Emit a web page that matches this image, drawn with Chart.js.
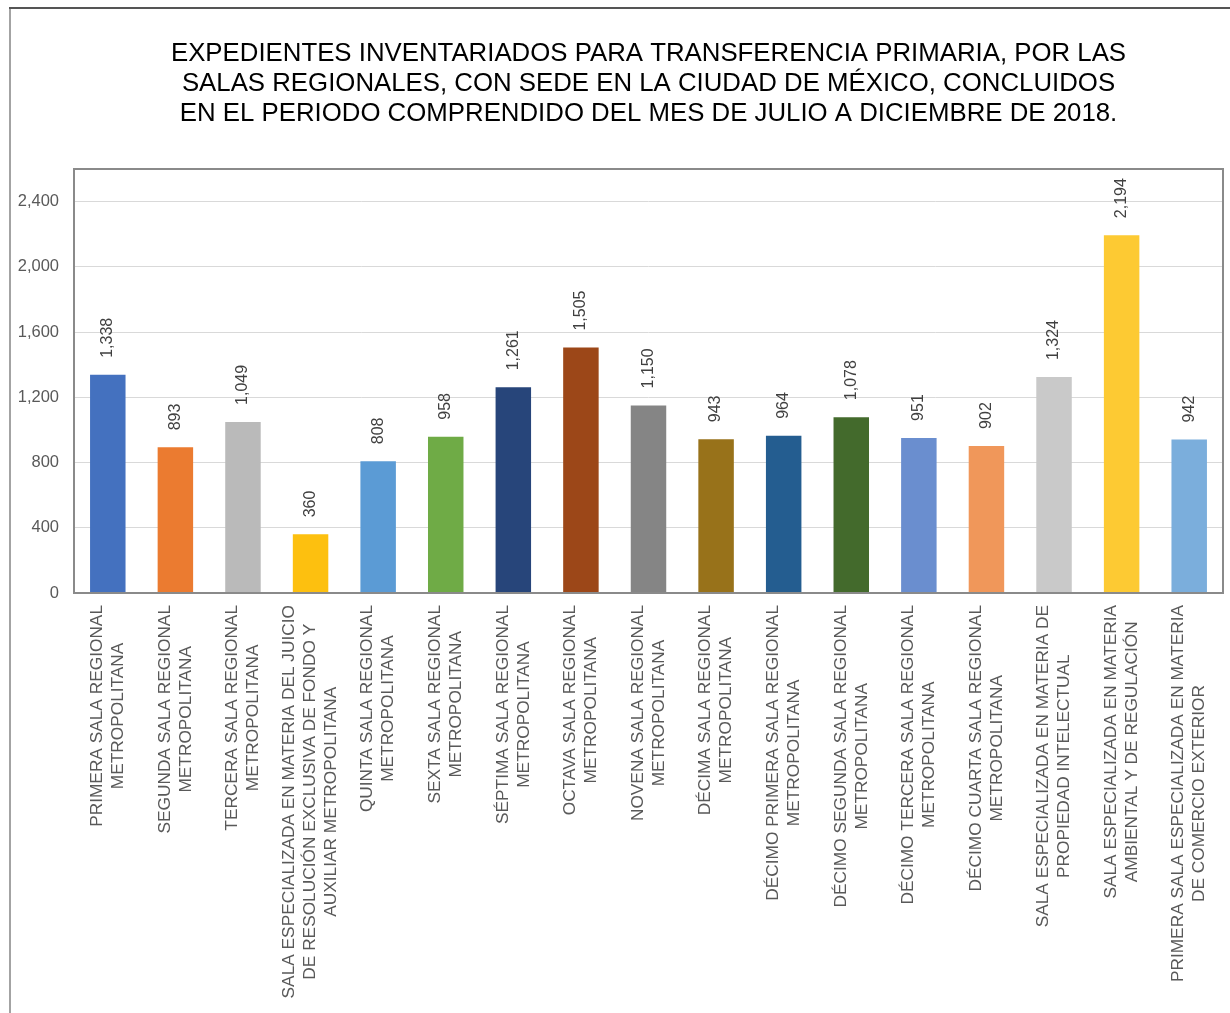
<!DOCTYPE html>
<html>
<head>
<meta charset="utf-8">
<script src="https://cdn.jsdelivr.net/npm/chart.js@4.4.0/dist/chart.umd.min.js"></script>
<style>
  body { margin: 0; background: #fff; }
  canvas { display: block; }
</style>
</head>
<body>
<canvas id="grafico" width="1230" height="1013"></canvas>
<script>
// Datos
const titulo = [
  'EXPEDIENTES INVENTARIADOS PARA TRANSFERENCIA PRIMARIA, POR LAS',
  'SALAS REGIONALES, CON SEDE EN LA CIUDAD DE MÉXICO, CONCLUIDOS',
  'EN EL PERIODO COMPRENDIDO DEL MES DE JULIO A DICIEMBRE DE 2018.'
];

const salas = [
  ['PRIMERA SALA REGIONAL', 'METROPOLITANA'],
  ['SEGUNDA SALA REGIONAL', 'METROPOLITANA'],
  ['TERCERA SALA REGIONAL', 'METROPOLITANA'],
  ['SALA ESPECIALIZADA EN MATERIA DEL JUICIO', 'DE RESOLUCIÓN EXCLUSIVA DE FONDO Y', 'AUXILIAR METROPOLITANA'],
  ['QUINTA SALA REGIONAL', 'METROPOLITANA'],
  ['SEXTA SALA REGIONAL', 'METROPOLITANA'],
  ['SÉPTIMA SALA REGIONAL', 'METROPOLITANA'],
  ['OCTAVA SALA REGIONAL', 'METROPOLITANA'],
  ['NOVENA SALA REGIONAL', 'METROPOLITANA'],
  ['DÉCIMA SALA REGIONAL', 'METROPOLITANA'],
  ['DÉCIMO PRIMERA SALA REGIONAL', 'METROPOLITANA'],
  ['DÉCIMO SEGUNDA SALA REGIONAL', 'METROPOLITANA'],
  ['DÉCIMO TERCERA SALA REGIONAL', 'METROPOLITANA'],
  ['DÉCIMO CUARTA SALA REGIONAL', 'METROPOLITANA'],
  ['SALA ESPECIALIZADA EN MATERIA DE', 'PROPIEDAD INTELECTUAL'],
  ['SALA ESPECIALIZADA EN MATERIA', 'AMBIENTAL Y DE REGULACIÓN'],
  ['PRIMERA SALA ESPECIALIZADA EN MATERIA', 'DE COMERCIO EXTERIOR']
];

const expedientes = [1338, 893, 1049, 360, 808, 958, 1261, 1505, 1150, 943, 964, 1078, 951, 902, 1324, 2194, 942];

const colores = [
  '#4471bf', '#eb7b30', '#bababa', '#fdc00f', '#5b9bd5', '#6fab46',
  '#27457a', '#9c4718', '#858585', '#98721a', '#245d90', '#436a2c',
  '#6a8ecf', '#f0975a', '#c9c9c9', '#fdca33', '#7baedc'
];

const fuente = "'Liberation Sans', Arial, sans-serif";

// marco exterior de la imagen y borde del área del gráfico
const marco = {
  id: 'marco',
  beforeDraw(chart) {
    const ctx = chart.ctx;
    ctx.save();
    ctx.fillStyle = '#a3a3a3';
    ctx.fillRect(9, 7, 2, 1006);
    ctx.fillStyle = '#555555';
    ctx.fillRect(9, 7, 1221, 2);
    ctx.restore();
  },
  afterDraw(chart) {
    const a = chart.chartArea;
    const ctx = chart.ctx;
    ctx.save();
    ctx.strokeStyle = '#8a8a8a';
    ctx.lineWidth = 2;
    ctx.strokeRect(a.left, a.top, a.right - a.left, a.bottom - a.top);
    ctx.restore();
  }
};

// etiquetas de valor giradas encima de cada barra
const etiquetasValor = {
  id: 'etiquetasValor',
  afterDatasetsDraw(chart) {
    const ctx = chart.ctx;
    const meta = chart.getDatasetMeta(0);
    ctx.save();
    ctx.font = '16px ' + fuente;
    ctx.fillStyle = '#404040';
    ctx.textAlign = 'left';
    ctx.textBaseline = 'middle';
    meta.data.forEach((barra, i) => {
      ctx.save();
      ctx.translate(barra.x, barra.y - 17);
      ctx.rotate(-Math.PI / 2);
      ctx.fillText(expedientes[i].toLocaleString('en-US'), 0, 0);
      ctx.restore();
    });
    ctx.restore();
  }
};

// nombres de las salas, verticales y centrados entre sí
const etiquetasX = {
  id: 'etiquetasX',
  afterDraw(chart) {
    const ctx = chart.ctx;
    const escala = chart.scales.x;
    const base = chart.chartArea.bottom + 12;
    const alto = 21;
    ctx.save();
    ctx.font = '17.3px ' + fuente;
    ctx.fillStyle = '#595959';
    ctx.textAlign = 'center';
    ctx.textBaseline = 'middle';
    salas.forEach((lineas, i) => {
      const x = escala.getPixelForValue(i);
      const ancho = Math.max(...lineas.map(l => ctx.measureText(l).width));
      lineas.forEach((linea, j) => {
        ctx.save();
        ctx.translate(x + (j - (lineas.length - 1) / 2) * alto, base + ancho / 2);
        ctx.rotate(-Math.PI / 2);
        ctx.fillText(linea, 0, 0);
        ctx.restore();
      });
    });
    ctx.restore();
  }
};

new Chart(document.getElementById('grafico'), {
  type: 'bar',
  data: {
    labels: salas,
    datasets: [{
      data: expedientes,
      backgroundColor: colores,
      barPercentage: 0.525,
      categoryPercentage: 1
    }]
  },
  options: {
    responsive: false,
    animation: false,
    layout: { padding: { left: 10, right: 7, top: 0, bottom: 0 } },
    plugins: {
      legend: { display: false },
      tooltip: { enabled: false },
      title: {
        display: true,
        fullSize: false,
        text: titulo,
        color: '#000000',
        font: { family: fuente, size: 25.8, weight: 'normal', lineHeight: '30px' },
        padding: { top: 39, bottom: 40 }
      }
    },
    scales: {
      x: {
        ticks: { display: false },
        grid: { display: false },
        border: { display: false },
        afterFit(scale) { scale.height = 420; }
      },
      y: {
        min: 0,
        max: 2600,
        ticks: {
          stepSize: 400,
          includeBounds: false,
          padding: 15,
          color: '#595959',
          font: { family: fuente, size: 16.5 },
          callback: v => v.toLocaleString('en-US')
        },
        grid: { color: '#d9d9d9', lineWidth: 1, drawTicks: false },
        border: { display: false },
        afterFit(scale) { scale.width = 64; }
      }
    }
  },
  plugins: [marco, etiquetasValor, etiquetasX]
});
</script>
</body>
</html>
